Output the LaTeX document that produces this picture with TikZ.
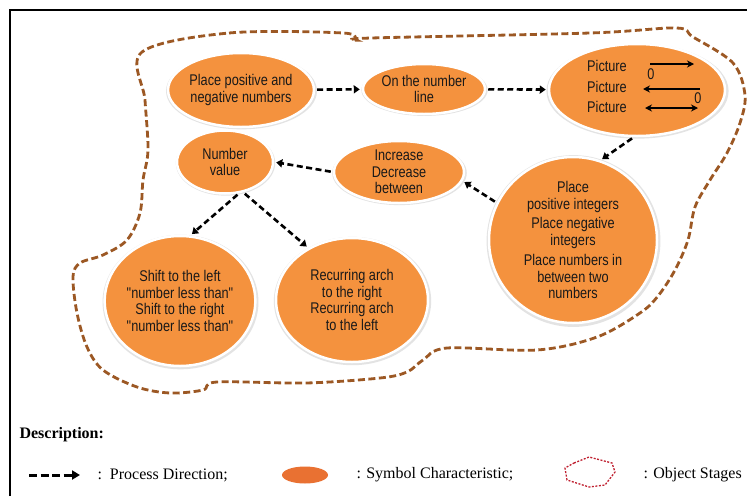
\documentclass[tikz,border=0pt]{standalone}
\usepackage{fontspec}
\setmainfont[FakeStretch=0.82, Ligatures=TeXOff]{Liberation Sans}
\newfontfamily\legendfont{Liberation Serif}
\usetikzlibrary{shapes.geometric,arrows.meta,shadows}

\definecolor{symbolorange}{RGB}{244,146,62}
\definecolor{legendorange}{RGB}{233,113,50}
\definecolor{stagebrown}{RGB}{156,88,36}
\definecolor{stagered}{RGB}{192,32,48}

\tikzset{
  symbol/.style={ellipse, fill=symbolorange, draw=white, line width=2.5pt, inner sep=0pt,
    drop shadow={shadow xshift=0.5pt, shadow yshift=-1pt, shadow scale=1.035, opacity=0.22},
    align=center, text=black!90, font=\fontsize{15.5}{16.5}\selectfont},
  process/.style={line width=2.6pt, dash pattern=on 6pt off 3.5pt,
    -{Triangle[length=6pt,width=8pt]}, shorten <=2pt, shorten >=2pt},
  pictarrow/.style={line width=1.3pt},
  legendtext/.style={anchor=west, font=\legendfont\fontsize{16}{18}\selectfont}
}

\begin{document}
\begin{tikzpicture}[x=1pt,y=-1pt]
\useasboundingbox (0,0) rectangle (747,496);
\fill[white] (0,0) rectangle (747,496);

% frame
\draw[line width=1.5pt] (10,496) -- (10,10) -- (747,10);

% object stages
\draw[stagebrown, line width=2.8pt, dash pattern=on 7pt off 3.5pt]
  plot[smooth cycle, tension=0.55] coordinates {
  (142,52) (229,33) (343,33) (356,40) (371,38) (590,33) (676,28) (693,37)
  (733,63) (745,95) (740,123) (727,153) (710,180) (695,207) (688,240)
  (675,270) (658,296) (640,313) (597,337) (537,350) (447,348) (423,360)
  (407,372) (380,378) (306,383) (217,382) (203,390) (170,393) (137,387)
  (103,370) (87,347) (77,313) (73,277) (80,263) (103,255) (127,240)
  (140,213) (143,180) (148,150) (145,100)};

% symbols
\node[symbol, minimum width=130, minimum height=74] (place) at (241,90)
  {Place positive and\\negative numbers};
\node[symbol, minimum width=122, minimum height=50] (line) at (424,89)
  {On the number\\line};
\node[symbol, minimum width=176, minimum height=92] (picture) at (637,90) {};
\node[symbol, minimum width=96, minimum height=63] (value) at (225,162)
  {Number\\value};
\node[symbol, minimum width=130, minimum height=62] (change) at (399,172)
  {Increase\\Decrease\\between};
\node[symbol, minimum width=168, minimum height=150] (integers) at (573,240)
  {Place\\positive integers\\[3pt]Place negative\\integers\\[4pt]Place numbers in\\between two\\numbers};
\node[symbol, minimum width=150, minimum height=130] (shift) at (180,301)
  {Shift to the left\\"number less than"\\Shift to the right\\"number less than"};
\node[symbol, minimum width=152, minimum height=124] (arch) at (352,300)
  {Recurring arch\\to the right\\Recurring arch\\to the left};

% picture contents
\begin{scope}[font=\fontsize{15.5}{16.5}\selectfont, text=black!90]
\node (pic1) at (607,66) {Picture};
\node (pic2) at (607,87) {Picture};
\node (pic3) at (607,107) {Picture};
\draw[pictarrow, -{Stealth[length=7pt,width=7pt]}] (650,64) -- (694,64);
\node (zero1) at (651,74) {0};
\draw[pictarrow, -{Stealth[length=7pt,width=7pt]}] (700,89) -- (643,89);
\node (zero2) at (698,98) {0};
\draw[pictarrow, {Stealth[length=7pt,width=7pt]}-{Stealth[length=7pt,width=7pt]}] (645,108) -- (698,108);
\end{scope}

% process direction
\draw[process] (place) -- (line);
\draw[process] (line) -- (picture);
\draw[process] (picture.266) -- (integers.71);
\draw[process] (integers.154) -- (change.352);
\draw[process] (change.west) -- (value.east);
\draw[process] (value.294) -- (shift.81);
\draw[process] (value.301) -- (arch.130);

% description
\node[legendtext, font=\legendfont\bfseries\fontsize{16}{18}\selectfont] (desc) at (16,435) {Description:};
\coordinate (keystart) at (29,475);
\coordinate (keyend) at (80,475);
\draw[line width=3pt, dash pattern=on 8pt off 3.5pt, -{Triangle[length=8pt,width=9pt]}] (keystart) -- (keyend);
\node[legendtext] (keyprocess) at (94,475) {:\ \ Process Direction;};
\node[ellipse, fill=legendorange, minimum width=46, minimum height=17, inner sep=0pt] (keysymbol) at (305,475) {};
\node[legendtext] (keychar) at (353,475) {: Symbol Characteristic;};
\draw[stagered, line width=1.3pt, dash pattern=on 2pt off 1.5pt]
  (574,463) -- (589,457) -- (612,463) -- (615,472) -- (605,485) -- (589,487) -- (567,480) -- (565,468) -- cycle;
\node[legendtext] (keystages) at (640,475) {: Object Stages};
\end{tikzpicture}
\end{document}
